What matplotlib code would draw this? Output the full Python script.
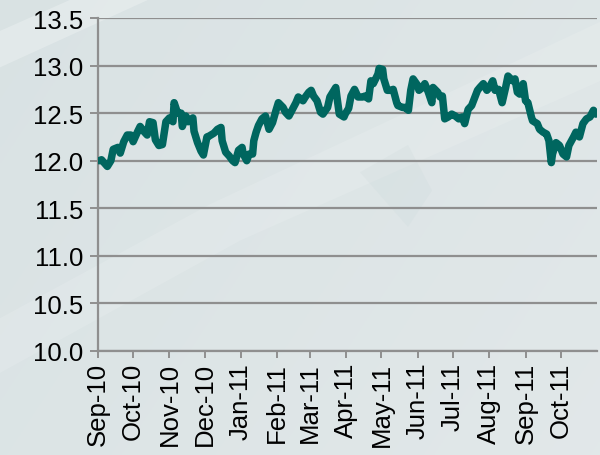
import numpy as np
import pandas as pd
import matplotlib
matplotlib.use('Agg')
import matplotlib.pyplot as plt
import matplotlib.dates as mdates
from matplotlib.patches import Polygon

plt.rcParams['font.family'] = ['Liberation Sans', 'DejaVu Sans']

# days since 1 Sep 2010 and the value read at each of them
day_offsets = [1, 3, 8, 11, 13, 17, 19, 22, 25, 28, 30, 34, 36, 39, 42, 44, 47,
               49, 52, 55, 58, 61, 64, 65, 68, 71, 72, 75, 77, 81, 82, 85, 88,
               90, 93, 95, 99, 102, 105, 106, 109, 112, 115, 117, 120, 123, 124,
               127, 129, 132, 133, 135, 137, 140, 143, 146, 149, 152, 154, 158,
               160, 163, 166, 169, 171, 175, 177, 180, 182, 184, 187, 190, 192,
               196, 198, 203, 204, 206, 210, 211, 214, 216, 219, 222, 226, 228,
               231, 233, 235, 239, 240, 243, 244, 247, 250, 252, 255, 256, 260,
               262, 265, 267, 269, 273, 274, 277, 279, 282, 285, 286, 290, 292,
               294, 296, 299, 302, 305, 308, 311, 313, 316, 319, 324, 326, 329,
               332, 334, 337, 339, 342, 345, 348, 350, 354, 356, 358, 360, 363,
               365, 367, 370, 371, 375, 377, 380, 383, 385, 387, 388, 391, 394,
               397, 400, 402, 406, 408, 411, 414, 417, 420, 423, 425]
values = [12.00, 12.01, 11.94, 12.00, 12.12, 12.14, 12.08, 12.20, 12.27, 12.27,
          12.20, 12.31, 12.36, 12.31, 12.27, 12.41, 12.40, 12.22, 12.16, 12.17,
          12.41, 12.45, 12.41, 12.61, 12.50, 12.50, 12.36, 12.47, 12.41, 12.45,
          12.31, 12.19, 12.10, 12.06, 12.25, 12.26, 12.29, 12.33, 12.35, 12.21,
          12.09, 12.05, 12.00, 11.98, 12.11, 12.14, 12.07, 12.00, 12.07, 12.07,
          12.21, 12.30, 12.37, 12.44, 12.47, 12.33, 12.40, 12.53, 12.61, 12.56,
          12.51, 12.47, 12.54, 12.61, 12.67, 12.63, 12.67, 12.72, 12.74, 12.68,
          12.63, 12.51, 12.49, 12.56, 12.67, 12.77, 12.67, 12.49, 12.46, 12.49,
          12.55, 12.68, 12.75, 12.67, 12.67, 12.68, 12.65, 12.84, 12.81, 12.91,
          12.97, 12.96, 12.86, 12.74, 12.74, 12.75, 12.61, 12.58, 12.56, 12.56,
          12.53, 12.74, 12.86, 12.79, 12.74, 12.77, 12.81, 12.72, 12.61, 12.77,
          12.72, 12.67, 12.68, 12.44, 12.46, 12.49, 12.47, 12.44, 12.46, 12.39,
          12.54, 12.58, 12.74, 12.77, 12.81, 12.74, 12.77, 12.84, 12.74, 12.75,
          12.61, 12.77, 12.89, 12.84, 12.86, 12.72, 12.70, 12.81, 12.63, 12.61,
          12.46, 12.42, 12.39, 12.33, 12.30, 12.28, 12.21, 11.98, 12.07, 12.19,
          12.16, 12.07, 12.04, 12.16, 12.25, 12.30, 12.25, 12.39, 12.44, 12.46,
          12.53, 12.49]

month_ticks = pd.date_range('2010-09-01', '2011-10-01', freq='MS')
y_ticks = [10.0, 10.5, 11.0, 11.5, 12.0, 12.5, 13.0, 13.5]

dates = pd.Timestamp('2010-09-01') + pd.to_timedelta(day_offsets, unit='D')

fig = plt.figure(figsize=(6, 4.56), dpi=100)

# background: soft grey-teal gradient with a few pale diagonal shapes
bg = fig.add_axes([0, 0, 1, 1], zorder=0)
yy, xx = np.mgrid[0:1:200j, 0:1:260j]
shade = 0.45 + 0.3 * (xx - yy) - 0.15 * (1 - yy)
base = np.array([0.84, 0.88, 0.885])
light = np.array([0.915, 0.93, 0.935])
t = np.clip(shade, 0, 1)[..., None]
img = base * (1 - t) + light * t
bg.imshow(img, extent=[0, 1, 0, 1], origin='lower', aspect='auto')
bg.add_patch(Polygon([[0, 0.3], [0.35, 0.55], [1, 0.95], [1, 0.82], [0.4, 0.47], [0, 0.18]],
                     closed=True, color='white', alpha=0.12, lw=0))
bg.add_patch(Polygon([[0, 0.85], [0.25, 1], [0.12, 1], [0, 0.93]],
                     closed=True, color='white', alpha=0.25, lw=0))
bg.add_patch(Polygon([[0.68, 0.5], [0.72, 0.58], [0.68, 0.68], [0.6, 0.62]],
                     closed=True, color='#c8d6d8', alpha=0.2, lw=0))
bg.set_xlim(0, 1)
bg.set_ylim(0, 1)
bg.axis('off')

ax = fig.add_axes([0.1633, 0.2281, 0.8317, 0.7302], zorder=1)
ax.patch.set_alpha(0)

ax.plot(dates, values, color='#00665f', lw=5.4,
        solid_joinstyle='round', solid_capstyle='round', zorder=3)

ax.set_xlim(pd.Timestamp('2010-09-01'), pd.Timestamp('2011-11-01'))
ax.set_ylim(10.0, 13.5)
ax.set_yticks(y_ticks)
ax.set_yticklabels(['%.1f' % v for v in y_ticks])
ax.set_xticks(month_ticks)
ax.xaxis.set_major_formatter(mdates.DateFormatter('%b-%y'))
plt.setp(ax.get_xticklabels(), rotation=90)

ax.yaxis.grid(True, color='#8f8f8f', lw=1.6)
ax.set_axisbelow(True)
for side in ['top', 'right']:
    ax.spines[side].set_visible(False)
for side in ['left', 'bottom']:
    ax.spines[side].set_color('#8f8f8f')
    ax.spines[side].set_linewidth(1.6)
ax.tick_params(axis='both', colors='#8f8f8f', width=1.4,
               labelsize=18.5, labelcolor='black')
ax.tick_params(axis='y', length=5.8, pad=5)
ax.tick_params(axis='x', length=4.8, pad=3)

fig.savefig('out.png', dpi=100)
